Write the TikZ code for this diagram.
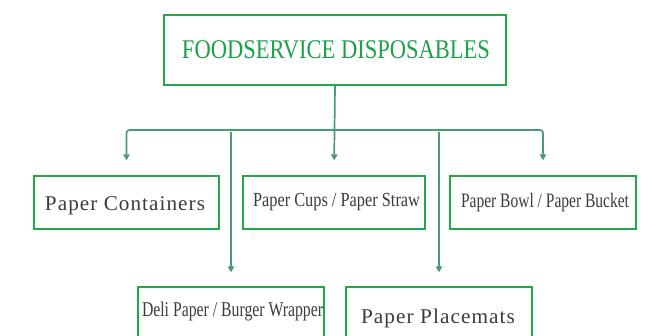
\documentclass[tikz,border=0pt]{standalone}
\usepackage{fontspec}
\usepackage{graphicx}
\setmainfont{Liberation Serif}
\usetikzlibrary{arrows.meta}
\definecolor{boxgreen}{RGB}{32,168,74}
\definecolor{titlegreen}{RGB}{28,160,72}
\definecolor{conngreen}{RGB}{72,156,112}
\definecolor{txtgrey}{RGB}{60,60,60}
\newcommand{\fitw}[2]{\resizebox{#1}{\height}{#2}}
\tikzset{
  box/.style={draw=boxgreen, line width=1.3pt, fill=white, inner sep=0pt},
  titlebox/.style={draw=boxgreen, line width=2.4pt, inner sep=0pt},
  txt/.style={inner sep=0pt, text=txtgrey, anchor=base},
  conn/.style={draw=conngreen, line width=1.7pt, rounded corners=3pt,
    -{Triangle[width=6.5pt,length=6pt]}},
}
\begin{document}
\begin{tikzpicture}[x=1pt,y=-1pt]
\useasboundingbox (0,0) rectangle (661,335);
% boxes
\node[titlebox, minimum width=342pt, minimum height=70pt] (title) at (335,50) {};
\node[box, minimum width=185pt, minimum height=53pt] (cont) at (126.5,202.5) {};
\node[box, minimum width=182pt, minimum height=53pt] (cups) at (334,202.5) {};
\node[box, minimum width=186pt, minimum height=53pt] (bowl) at (543,202.5) {};
\node[box, minimum width=186pt, minimum height=70pt] (deli) at (231,322) {};
\node[box, minimum width=186pt, minimum height=70pt] (place) at (439,322) {};
% texts
\node[txt, text=titlegreen] (ttitle) at (336,58) {\fontsize{27}{27}\selectfont\fitw{308pt}{FOODSERVICE DISPOSABLES}};
\node[txt] (tcont) at (125,210) {\fontsize{21}{21}\selectfont\addfontfeature{LetterSpace=5}\fitw{160pt}{Paper Containers}};
\node[txt] (tcups) at (336.5,206) {\fontsize{20}{20}\selectfont\fitw{167pt}{Paper Cups / Paper Straw}};
\node[txt] (tbowl) at (545,207) {\fontsize{20.5}{20.5}\selectfont\fitw{168pt}{Paper Bowl / Paper Bucket}};
\node[txt] (tdeli) at (232.5,316) {\fontsize{21}{21}\selectfont\fitw{181pt}{Deli Paper / Burger Wrapper}};
\node[txt] (tplace) at (438,323) {\fontsize{21}{21}\selectfont\addfontfeature{LetterSpace=5}\fitw{154pt}{Paper Placemats}};
% connectors
\coordinate (bar) at (335,130);
\draw[conn, shorten >=15pt] (title.south) -- (cups.north);
\draw[conn, shorten >=15pt] (bar) -| (cont.north);
\draw[conn, shorten >=15pt] (bar) -| (bowl.north);
\coordinate (dstart) at (231,132);
\coordinate (pstart) at (439,132);
\draw[conn, shorten >=14pt] (dstart) -- (deli.north);
\draw[conn, shorten >=14pt] (pstart) -- (place.north);
\end{tikzpicture}
\end{document}
